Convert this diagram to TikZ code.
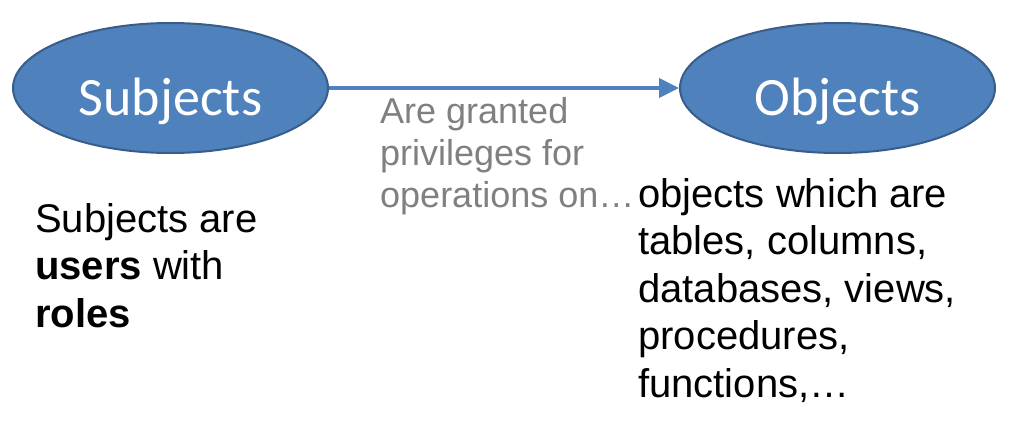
\documentclass[tikz,border=0pt]{standalone}
\usepackage{fontspec}
\setmainfont{Liberation Sans}
\newfontfamily\ovalfont{Carlito}
\usetikzlibrary{shapes.geometric,arrows.meta}
\definecolor{ovalblue}{RGB}{79,129,189}
\definecolor{ovalborder}{RGB}{56,93,138}
\definecolor{notegray}{RGB}{128,128,128}

\begin{document}
\begin{tikzpicture}[x=1pt, y=-1pt]
%% coordinates are in pixels of the original slide, y grows downwards
%% the notes are placed at the baseline of their last line
\tikzstyle{oval}=[ellipse, fill=ovalblue, draw=ovalborder, line width=2pt, minimum width=315pt, minimum height=130pt, inner sep=0pt, text height=54pt, text depth=0pt, text=white, font=\ovalfont\fontsize{54}{64}\selectfont]
\tikzstyle{arc}=[-{Triangle[length=20pt,width=19pt]}, draw=ovalblue, line width=4pt]
\tikzstyle{note}=[align=left, inner sep=0pt, anchor=base west, font=\fontsize{40}{47.5}\selectfont]
\tikzstyle{arclabel}=[note, text=notegray, font=\fontsize{36}{42}\selectfont]
\useasboundingbox (0,0) rectangle (1010,421);
%% the two ovals
\node[oval] at (170.5,88) (Subjects) {Subjects};
\node[oval] at (837.5,88) (Objects) {Objects};
%% arc between Subjects and Objects
\draw[arc] (Subjects) -- (Objects);
%% label for the arc
\node[arclabel] at (380,207) (Granted) {Are granted\\privileges for\\operations on…};
%% notes under the ovals
\node[note] at (35,327) (SubjectsNote) {Subjects are\\\textbf{users} with\\\textbf{roles}};
\node[note] at (638,397) (ObjectsNote) {objects which are\\tables, columns,\\databases, views,\\procedures,\\functions,…};
\end{tikzpicture}
\end{document}
